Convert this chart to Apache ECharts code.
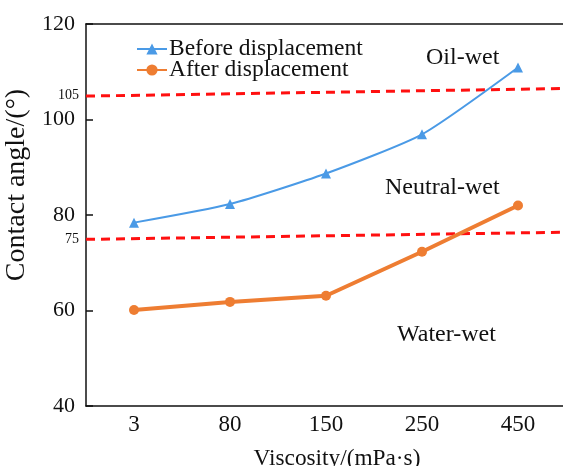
<!DOCTYPE html>
<html><head><meta charset="utf-8">
<script src="https://cdn.jsdelivr.net/npm/echarts@6/dist/echarts.min.js"></script>
<style>html,body{margin:0;padding:0;background:#fff}#c{width:563px;height:466px}</style>
</head><body><div id="c"></div>
<script>
const categories = ['3', '80', '150', '250', '450'];
const beforeValues = [78.4, 82.3, 88.7, 96.9, 110.9];
const afterValues = [60.1, 61.8, 63.1, 72.3, 82.0];
const oilWetLine = [[0, 104.9], [1, 106.5]];
const waterWetLine = [[0, 74.9], [1, 76.4]];
const yTicks = [40, 60, 80, 100, 120];
const thresholdTicks = [75, 105];
const regionLabels = ['Oil-wet', 'Neutral-wet', 'Water-wet'];

const FONT = '"Liberation Serif", "Times New Roman", serif';
const chart = echarts.init(document.getElementById('c'));
chart.setOption({
  animation: false,
  backgroundColor: '#fff',
  textStyle: { fontFamily: FONT },
  grid: { left: 86, top: 24, right: -3, bottom: 60, outerBoundsMode: 'none', containLabel: false },
  legend: {
    left: 131, top: 32, orient: 'vertical', itemGap: -3, itemWidth: 30, itemHeight: 14,
    textStyle: { fontFamily: FONT, fontSize: 23.5, color: '#111', padding: [0, 0, 0, -3] },
    data: ['Before displacement', 'After displacement']
  },
  xAxis: [
    {
      type: 'category', data: categories, boundaryGap: true,
      axisLine: { lineStyle: { color: '#111', width: 1.5 } },
      axisTick: { inside: true, alignWithLabel: true, length: 8, lineStyle: { color: '#111', width: 1.5 } },
      axisLabel: { fontFamily: FONT, fontSize: 23, color: '#111', margin: 7 },
      name: 'Viscosity/(mPa·s)', nameLocation: 'middle', nameGap: 41,
      nameTextStyle: { fontFamily: FONT, fontSize: 23.3, color: '#111', padding: [0, 0, 0, 22] }
    },
    {
      type: 'value', min: 0, max: 1, position: 'top',
      axisLine: { show: true, lineStyle: { color: '#111', width: 1.5 } },
      axisTick: { show: false }, axisLabel: { show: false }, splitLine: { show: false }
    }
  ],
  yAxis: [
    {
      type: 'value', min: 40, max: 120, interval: 20,
      axisLine: { show: true, lineStyle: { color: '#111', width: 1.5 } },
      axisTick: { show: true, inside: true, length: 7, lineStyle: { color: '#111', width: 1.5 } },
      axisLabel: { fontFamily: FONT, fontSize: 22, color: '#111', margin: 11,
        formatter: v => yTicks.includes(v) ? String(v) : '' },
      splitLine: { show: false },
      name: 'Contact angle/(°)', nameLocation: 'middle', nameGap: 54, nameRotate: 90,
      nameTextStyle: { fontFamily: FONT, fontSize: 28, color: '#111', padding: [0, 0, 0, 60] }
    },
    {
      type: 'value', min: 40, max: 120, interval: 5, position: 'left',
      axisLine: { show: false }, axisTick: { show: false }, splitLine: { show: false },
      axisLabel: { fontFamily: FONT, fontSize: 14, color: '#111', margin: 7,
        formatter: v => thresholdTicks.includes(v) ? String(v) : '' }
    }
  ],
  graphic: [
    { type: 'text', left: 426, top: 46, style: { text: regionLabels[0], font: '24px ' + FONT, fill: '#111' } },
    { type: 'text', left: 385, top: 176, style: { text: regionLabels[1], font: '24px ' + FONT, fill: '#111' } },
    { type: 'text', left: 397, top: 323, style: { text: regionLabels[2], font: '24px ' + FONT, fill: '#111' } }
  ],
  series: [
    {
      name: 'oil', type: 'line', xAxisIndex: 1, yAxisIndex: 0, data: oilWetLine, symbol: 'none',
      lineStyle: { color: '#ff1010', width: 3, type: [9, 6] }, silent: true
    },
    {
      name: 'water', type: 'line', xAxisIndex: 1, yAxisIndex: 0, data: waterWetLine, symbol: 'none',
      lineStyle: { color: '#ff1010', width: 3, type: [9, 6] }, silent: true
    },
    {
      name: 'Before displacement', type: 'line', xAxisIndex: 0, yAxisIndex: 0, data: beforeValues,
      smooth: 0.2, symbol: 'triangle', symbolSize: 10,
      itemStyle: { color: '#4a9ae6' }, lineStyle: { color: '#4a9ae6', width: 2 }
    },
    {
      name: 'After displacement', type: 'line', xAxisIndex: 0, yAxisIndex: 0, data: afterValues,
      symbol: 'circle', symbolSize: 10,
      itemStyle: { color: '#ee7d32' }, lineStyle: { color: '#ee7d32', width: 4 }
    }
  ]
});
</script></body></html>
